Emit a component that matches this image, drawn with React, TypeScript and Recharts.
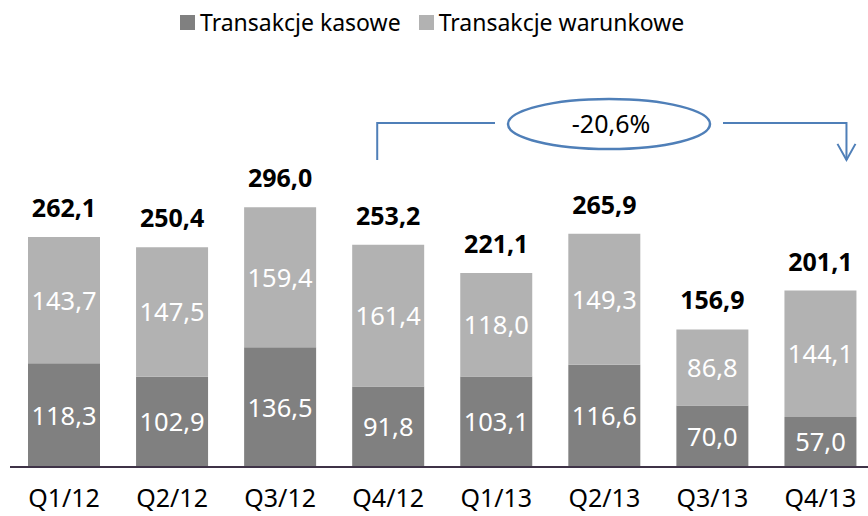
import React from "react";
import { BarChart, Bar, XAxis, YAxis, LabelList, Customized } from "recharts";

const categories = ["Q1/12", "Q2/12", "Q3/12", "Q4/12", "Q1/13", "Q2/13", "Q3/13", "Q4/13"];
const kasowe = [118.3, 102.9, 136.5, 91.8, 103.1, 116.6, 70.0, 57.0];
const warunkowe = [143.7, 147.5, 159.4, 161.4, 118.0, 149.3, 86.8, 144.1];
const totals = [262.1, 250.4, 296.0, 253.2, 221.1, 265.9, 156.9, 201.1];
const seriesNames = ["Transakcje kasowe", "Transakcje warunkowe"];
const changeLabel = "-20,6%";

const data = categories.map((c, i) => ({
  name: c,
  kasowe: kasowe[i],
  warunkowe: warunkowe[i],
  total: totals[i],
}));

const W = 880;
const H = 516;
const M = { top: 116, right: 5.5, bottom: 0, left: 10 };
const XH = 49;
const FONT = "'Noto Sans', 'Open Sans', sans-serif";
const DARK = "#808080";
const LIGHT = "#b2b2b2";
const BLUE = "#4f7fb8";

const fmt = (v: number) => v.toFixed(1).replace(".", ",");

const Annotation = () => {
  const plotW = W - M.left - M.right;
  const band = plotW / categories.length;
  const cx = (i: number) => M.left + band * (i + 0.5);
  const plotBottom = H - M.bottom - XH;
  const plotH = plotBottom - M.top;
  const yv = (v: number) => plotBottom - (v / 400) * plotH;
  const x1 = cx(3) - 11;
  const x2 = cx(7) + 26;
  const yTop = yv(392);
  const yStart = yv(350);
  const ex = 609;
  return (
    <g>
      <polyline points={`${x1},${yStart} ${x1},${yTop} ${495},${yTop}`} fill="none" stroke={BLUE} strokeWidth={2} />
      <polyline points={`${723},${yTop} ${x2},${yTop} ${x2},${yStart}`} fill="none" stroke={BLUE} strokeWidth={2} />
      <polyline points={`${x2 - 9},${yStart - 16} ${x2},${yStart} ${x2 + 9},${yStart - 16}`} fill="none" stroke={BLUE} strokeWidth={2} />
      <ellipse cx={ex} cy={yTop + 1} rx={101} ry={25} fill="#fff" stroke={BLUE} strokeWidth={2.5} />
      <text x={ex + 2} y={yTop + 9.5} textAnchor="middle" fontFamily={FONT} fontSize={25} fill="#000">
        {changeLabel}
      </text>
    </g>
  );
};

const TotalLabel = (props: any) => {
  const { x, y, width, index } = props;
  return (
    <text x={x + width / 2} y={y - 20} textAnchor="middle" fontFamily={FONT} fontWeight="bold" fontSize={25} fill="#000">
      {fmt(totals[index])}
    </text>
  );
};

const InnerLabel = (props: any) => {
  const { x, y, width, height, value } = props;
  return (
    <text x={x + width / 2} y={y + height / 2 + 9.5} textAnchor="middle" fontFamily={FONT} fontSize={25.5} fill="#fff">
      {fmt(value)}
    </text>
  );
};

export default function App() {
  return (
    <div style={{ position: "absolute", left: 0, top: 0, width: 868, height: 516, overflow: "hidden", background: "#fff" }}>
      <div style={{ position: "absolute", left: 180, top: 6, display: "flex", alignItems: "center", fontFamily: FONT, fontSize: 23, color: "#000", whiteSpace: "nowrap" }}>
        <span style={{ display: "inline-block", width: 15, height: 15, background: DARK, marginRight: 5 }} />
        <span>{seriesNames[0]}</span>
        <span style={{ display: "inline-block", width: 15, height: 15, background: LIGHT, marginLeft: 18, marginRight: 5 }} />
        <span>{seriesNames[1]}</span>
      </div>
      <BarChart width={W} height={H} data={data} margin={M} barCategoryGap={0}>
        <XAxis
          dataKey="name"
          height={XH}
          tickLine={false}
          tickSize={0}
          tickMargin={22}
          axisLine={{ stroke: "#3f3347", strokeWidth: 2 }}
          tick={{ fontFamily: FONT, fontSize: 25, fill: "#000" }}
          interval={0}
        />
        <YAxis hide domain={[0, 400]} />
        <Bar dataKey="kasowe" stackId="a" fill={DARK} barSize={72} isAnimationActive={false}>
          <LabelList dataKey="kasowe" content={InnerLabel} />
        </Bar>
        <Bar dataKey="warunkowe" stackId="a" fill={LIGHT} barSize={72} isAnimationActive={false}>
          <LabelList dataKey="warunkowe" content={InnerLabel} />
          <LabelList dataKey="total" content={TotalLabel} />
        </Bar>
        <Customized component={Annotation} />
      </BarChart>
    </div>
  );
}
